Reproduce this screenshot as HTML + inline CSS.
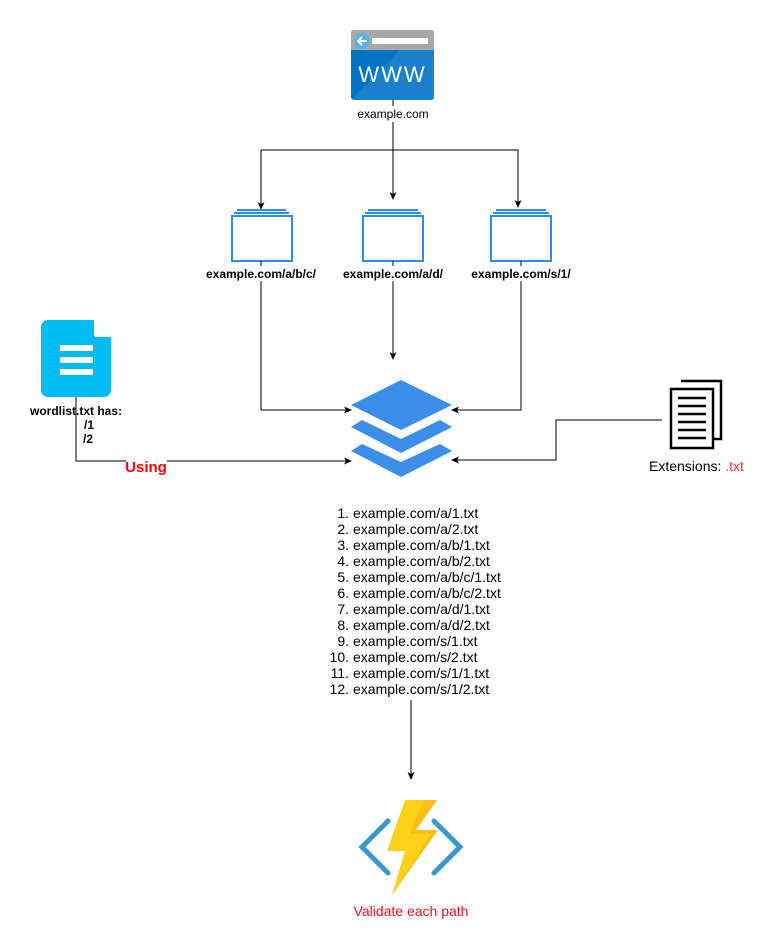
<!DOCTYPE html>
<html><head><meta charset="utf-8"><style>
html,body{margin:0;padding:0;background:#fff;}
svg{display:block;font-family:"Liberation Sans",sans-serif;}
</style></head><body>
<svg width="774" height="950" viewBox="0 0 774 950" xmlns="http://www.w3.org/2000/svg">
<defs>
<marker id="a" markerWidth="8" markerHeight="8" refX="7" refY="4" orient="auto" markerUnits="userSpaceOnUse">
<path d="M0,0.5 L8,4 L0,7.5 L2,4 Z" fill="#000"/></marker>
</defs>
<!-- WWW icon -->
<rect x="351" y="30" width="83" height="70" rx="3" fill="#0072c6"/>
<path d="M351,33 a3,3 0 0 1 3,-3 h77 a3,3 0 0 1 3,3 v17 h-83 z" fill="#a8a8a8"/>
<path d="M351,100 L400,50 L434,50 L434,97 a3,3 0 0 1 -3,3 z" fill="#ffffff" opacity="0.1"/>
<circle cx="362" cy="41" r="8" fill="#59b4e4"/>
<path d="M367,41 h-9 M362,37 l-4,4 l4,4" stroke="#fff" stroke-width="2" fill="none"/>
<rect x="372" y="38" width="56" height="6" fill="#fff"/>
<text x="392.5" y="82" font-size="22" fill="#fff" text-anchor="middle" letter-spacing="2">WWW</text>
<text x="393" y="118" font-size="12" text-anchor="middle">example.com</text>
<!-- top connectors -->
<g stroke="#000" stroke-width="1" fill="none">
<line x1="393" y1="100" x2="393" y2="106"/>
<line x1="393" y1="122" x2="393" y2="199" marker-end="url(#a)"/>
<polyline points="393,150 261,150 261,209" marker-end="url(#a)"/>
<polyline points="393,150 518,150 518,207" marker-end="url(#a)"/>
</g>
<!-- folders -->
<g fill="none" stroke="#2b8cf0" stroke-width="2">
<rect x="232" y="216" width="60" height="45" fill="#fff"/>
<line x1="234" y1="213" x2="289" y2="213"/><line x1="237" y1="210" x2="286" y2="210"/>
<rect x="363" y="216" width="60" height="45" fill="#fff"/>
<line x1="365" y1="213" x2="421" y2="213"/><line x1="368" y1="210" x2="418" y2="210"/>
<rect x="491" y="216" width="60" height="45" fill="#fff"/>
<line x1="493" y1="213" x2="549" y2="213"/><line x1="496" y1="210" x2="546" y2="210"/>
</g>
<g font-size="12" font-weight="bold" text-anchor="middle">
<text x="261" y="278">example.com/a/b/c/</text>
<text x="393" y="278">example.com/a/d/</text>
<text x="521" y="278">example.com/s/1/</text>
</g>
<g stroke="#000" stroke-width="1" fill="none">
<line x1="261" y1="261" x2="261" y2="266"/>
<line x1="393" y1="261" x2="393" y2="266"/>
<line x1="521" y1="261" x2="521" y2="266"/>
<polyline points="261,281 261,410 351,410" marker-end="url(#a)"/>
<line x1="393" y1="281" x2="393" y2="359" marker-end="url(#a)"/>
<polyline points="521,281 521,410 452,410" marker-end="url(#a)"/>
<polyline points="76,397 76,461 126,461"/>
<line x1="167" y1="461" x2="351" y2="461" marker-end="url(#a)"/>
<polyline points="662,420 556,420 556,460 452,460" marker-end="url(#a)"/>
<line x1="411" y1="700" x2="411" y2="779" marker-end="url(#a)"/>
</g>
<!-- layers -->
<g fill="#3b8eea">
<polygon points="401,380 452,405 401,430 351,405"/>
<polygon points="362,420 401,439 440,420 452,427 401,453 351,427"/>
<polygon points="362,444 401,462 440,444 452,451 401,477 351,451"/>
</g>
<!-- wordlist icon -->
<path d="M48,320 h46 l17,17 v53 a7,7 0 0 1 -7,7 h-56 a7,7 0 0 1 -7,-7 v-63 a7,7 0 0 1 7,-7 z" fill="#00bef2"/>
<path d="M94,320 v14 a3,3 0 0 0 3,3 h14 z" fill="#fff"/>
<g fill="#fff"><rect x="60" y="345" width="33" height="6"/><rect x="60" y="357" width="33" height="6"/><rect x="60" y="369" width="33" height="6"/></g>
<g font-size="12" font-weight="bold">
<text x="30" y="415">wordlist.txt has:</text>
<text x="84" y="429">/1</text>
<text x="83" y="443">/2</text>
</g>
<text x="146" y="472" font-size="15" font-weight="bold" fill="#ff0000" text-anchor="middle">Using</text>
<!-- extensions icon -->
<g stroke="#000" stroke-width="2.5" fill="#fff">
<path d="M681,381 h40 v58 h-7"/>
<rect x="671" y="389" width="42" height="59"/>
</g>
<g stroke="#000" stroke-width="2.5"><line x1="678" y1="398" x2="706" y2="398"/><line x1="678" y1="406" x2="706" y2="406"/><line x1="678" y1="414" x2="706" y2="414"/><line x1="678" y1="422" x2="706" y2="422"/><line x1="678" y1="430" x2="706" y2="430"/><line x1="678" y1="438" x2="706" y2="438"/></g>
<text x="649" y="471" font-size="14">Extensions: <tspan fill="#ff3333">.txt</tspan></text>
<!-- list -->
<g font-size="14">
<g text-anchor="end">
<text x="349" y="518">1.</text><text x="349" y="534">2.</text><text x="349" y="550">3.</text><text x="349" y="566">4.</text><text x="349" y="582">5.</text><text x="349" y="598">6.</text><text x="349" y="614">7.</text><text x="349" y="630">8.</text><text x="349" y="646">9.</text><text x="349" y="662">10.</text><text x="349" y="678">11.</text><text x="349" y="694">12.</text>
</g>
<text x="353" y="518">example.com/a/1.txt</text>
<text x="353" y="534">example.com/a/2.txt</text>
<text x="353" y="550">example.com/a/b/1.txt</text>
<text x="353" y="566">example.com/a/b/2.txt</text>
<text x="353" y="582">example.com/a/b/c/1.txt</text>
<text x="353" y="598">example.com/a/b/c/2.txt</text>
<text x="353" y="614">example.com/a/d/1.txt</text>
<text x="353" y="630">example.com/a/d/2.txt</text>
<text x="353" y="646">example.com/s/1.txt</text>
<text x="353" y="662">example.com/s/2.txt</text>
<text x="353" y="678">example.com/s/1/1.txt</text>
<text x="353" y="694">example.com/s/1/2.txt</text>
</g>
<!-- function icon -->
<g stroke="#3999c6" stroke-width="5" fill="none" stroke-linecap="round">
<polyline points="388,821 362,847 388,873"/>
<polyline points="434,821 460,847 434,873"/>
</g>
<polygon points="405,800 437,800 416,830 438,830 392,895 405,851 387,851" fill="#fcd116"/>
<polygon points="424,800 437,800 416,830 438,830 392,895 431,834 410,834" fill="#fbbd17" opacity="0.9"/>
<text x="411" y="916" font-size="14" fill="#e81123" text-anchor="middle">Validate each path</text>
</svg>
</body></html>
